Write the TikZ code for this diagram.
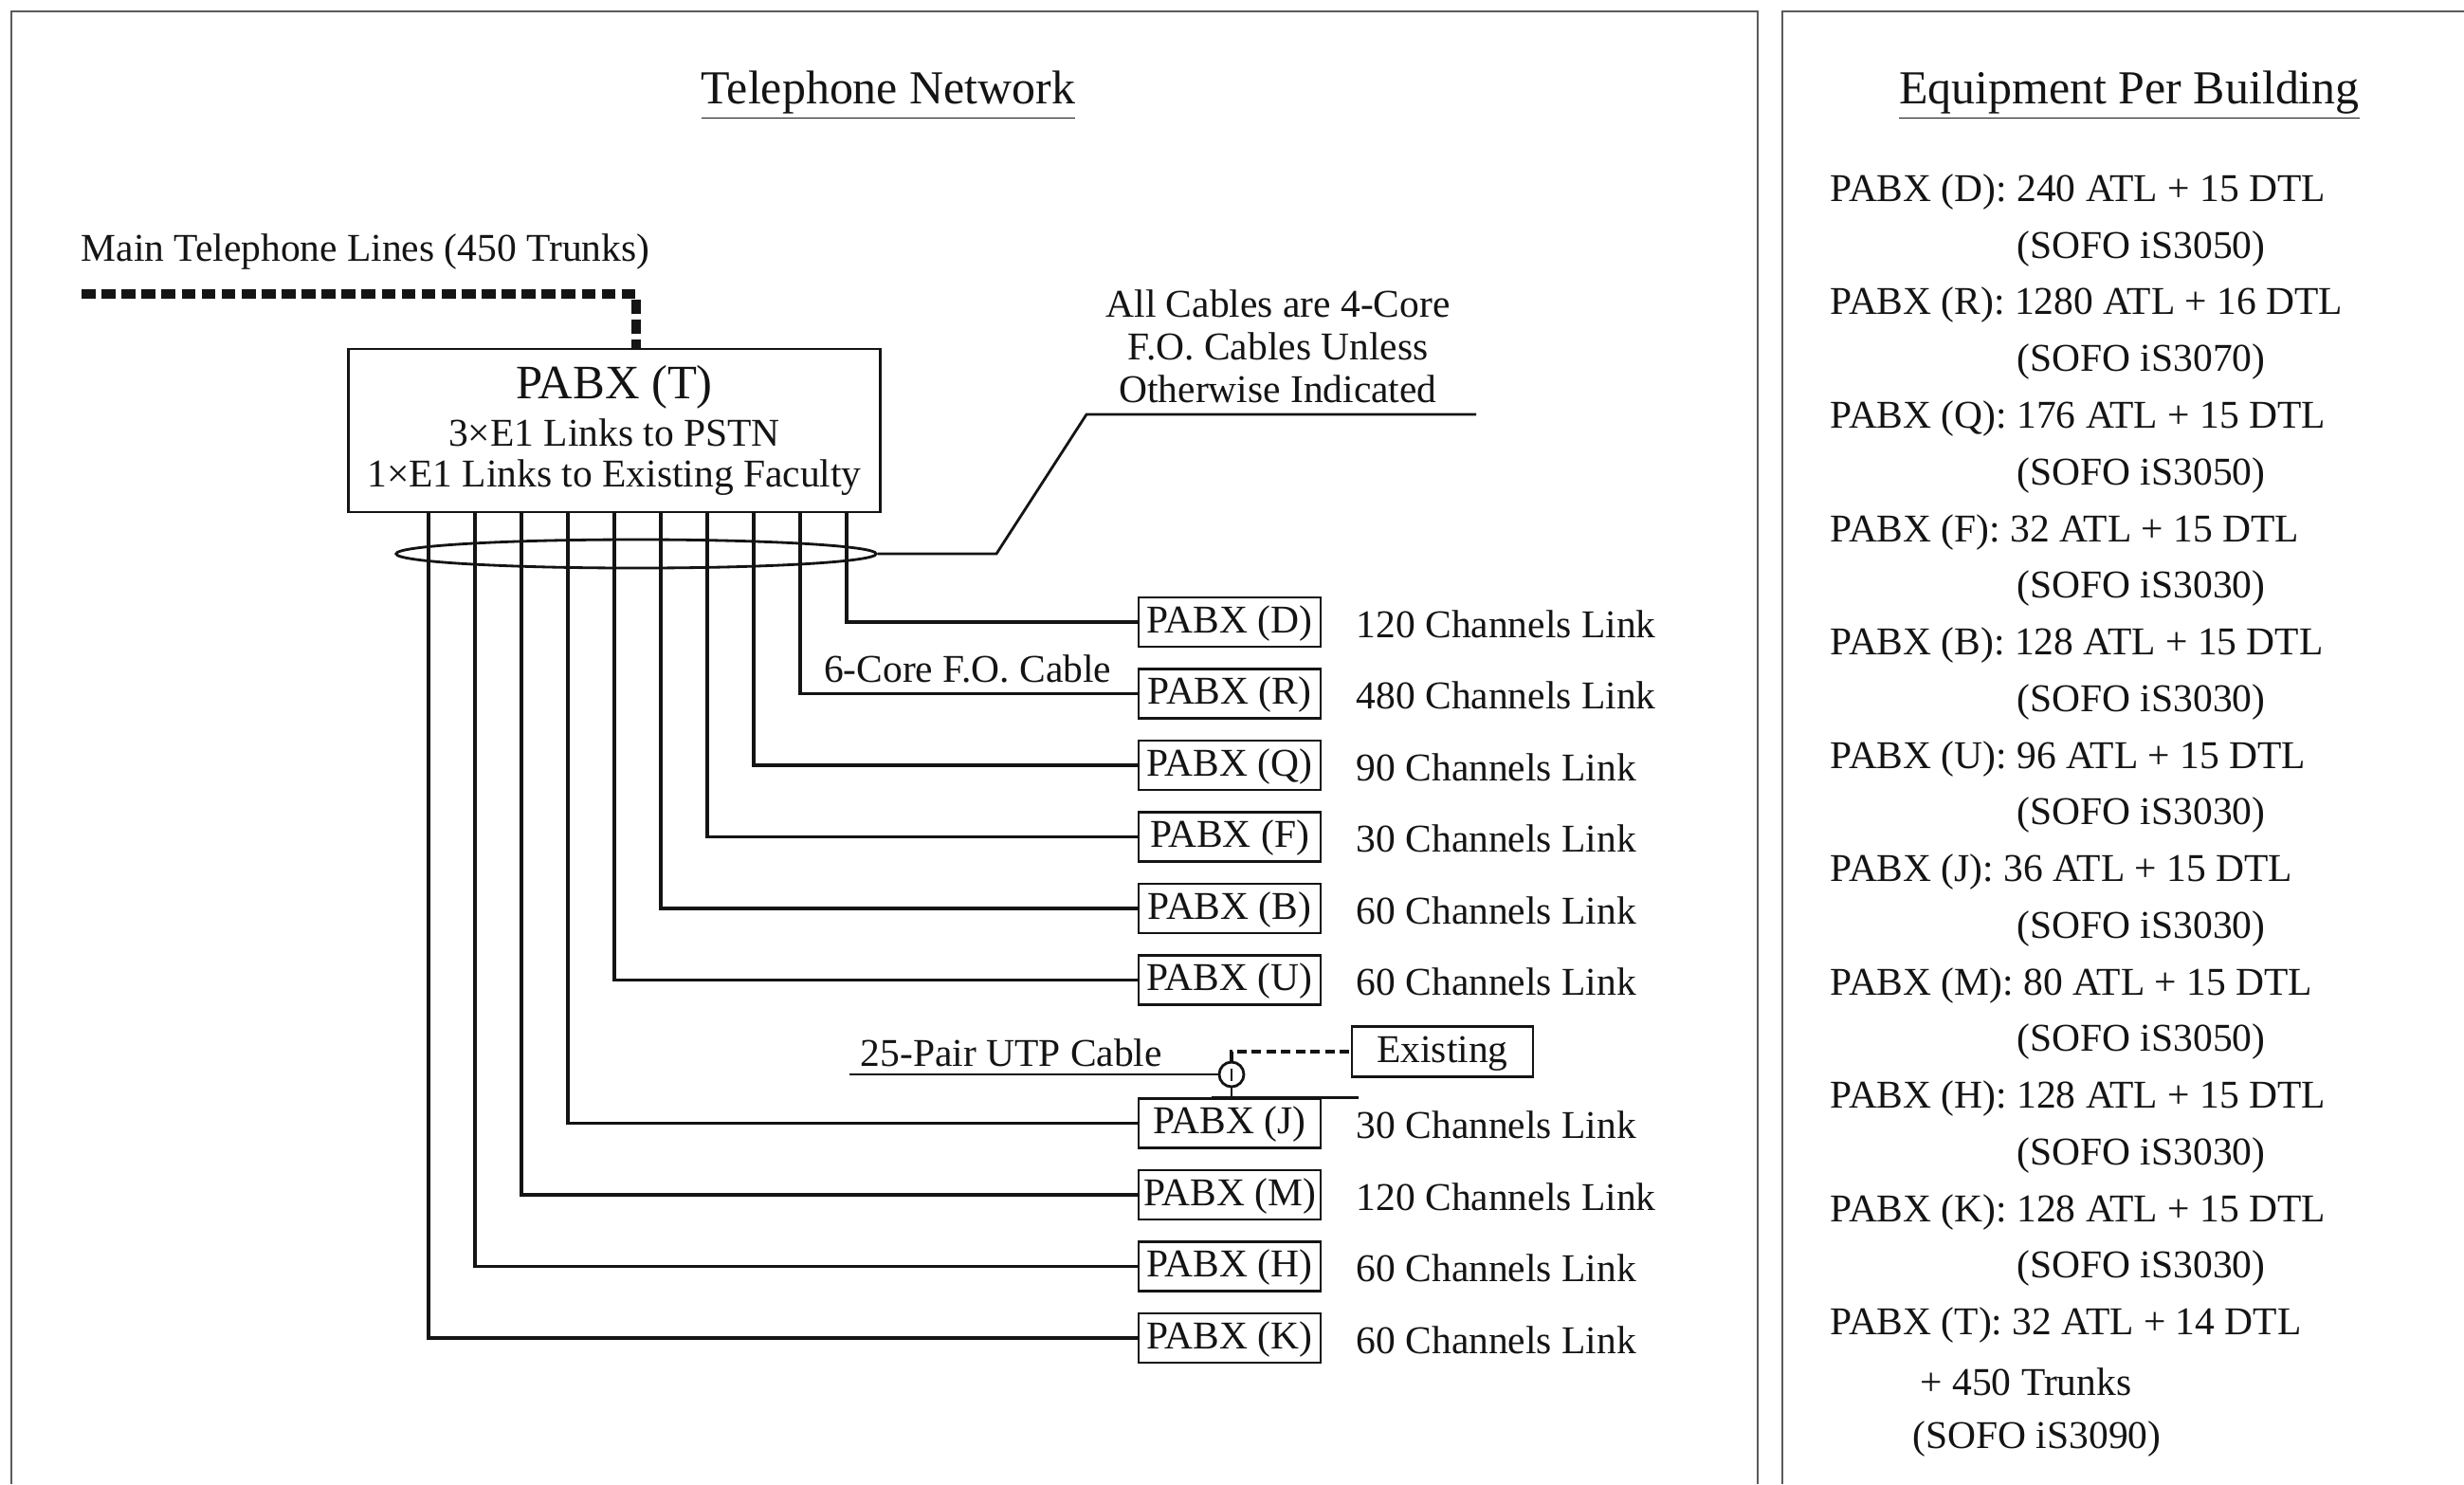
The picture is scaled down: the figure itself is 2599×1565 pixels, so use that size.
\documentclass[tikz,border=0pt]{standalone}
\usepackage{fontspec}
\setmainfont{Liberation Serif}
\usetikzlibrary{shapes.geometric, calc}
\definecolor{tnInk}{HTML}{141414}
\definecolor{tnRule}{HTML}{5A5A5A}
\tikzset{
  tnframe/.style={draw=tnRule, line width=0.7pt},
  tntitle/.style={font=\fontsize{14.2}{16}\selectfont, text=tnInk, inner sep=0pt, anchor=base},
  tntext/.style={font=\fontsize{11.8}{13.6}\selectfont, text=tnInk, inner sep=0pt},
  tnpabx/.style={
    draw=tnInk, line width=0.8pt, minimum width=1.92cm, minimum height=0.52cm,
    inner sep=0pt, text height=0.69em, text depth=0.05em,
    font=\fontsize{11.8}{13.6}\selectfont, text=tnInk,
  },
  tnline/.style={draw=tnInk, line width=0.8pt},
  tncable/.style={draw=tnInk, line width=1pt},
  tntrunk/.style={draw=tnInk, line width=3pt, dash pattern=on 4.2pt off 1.8pt},
  tnutp/.style={draw=tnInk, line width=0.9pt, dash pattern=on 2.8pt off 1.6pt},
}

\begin{document}
\begin{tikzpicture}[x=0.01cm, y=-0.01cm]
\useasboundingbox (0,0) rectangle (2599,1565);
\fill[white] (0,0) rectangle (2599,1565);

% Frames ------------------------------------------------------------------
\draw[tnframe] (12,1565) -- (12,12) -- (1854,12) -- (1854,1565);
\draw[tnframe] (1880,1565) -- (1880,12) -- (2599,12);

\node[tntitle] (netTitle) at (937,109) {\underline{Telephone Network}};
\node[tntitle] (eqTitle) at (2246,109) {\underline{Equipment Per Building}};

% Central exchange --------------------------------------------------------
\node[tnline, minimum width=5.6cm, minimum height=1.72cm] (pabxT) at (648,454) {};
\node[tntext, font=\fontsize{14.4}{16}\selectfont] (pabxTname) at (648,408) {PABX (T)};
\node[tntext] (pabxTpstn) at (648,456) {3×E1 Links to PSTN};
\node[tntext] (pabxTfac) at (648,504) {1×E1 Links to Existing Faculty};

\node[tntext, anchor=west] (trunkLabel) at (85,265) {Main Telephone Lines (450 Trunks)};
\coordinate (trunkStart) at (86,310);
\coordinate (trunkDrop) at (671,0);
\draw[tntrunk] (trunkStart) -| (pabxT.north -| trunkDrop);

% Cable bundle and note ---------------------------------------------------
\node[tnline, ellipse, minimum width=5.06cm, minimum height=0.3cm, inner sep=0pt] (bundle) at (671,584) {};
\node[tntext, align=center, font=\fontsize{11.8}{12.8}\selectfont] (note) at (1348,365)
  {All Cables are 4-Core\\F.O. Cables Unless\\Otherwise Indicated};
\coordinate (noteKnee) at (1051,584);
\coordinate (noteFoot) at (1146,437);
\coordinate (noteEnd) at (1557,437);
\draw[tnline] (bundle.east) -- (noteKnee) -- (noteFoot) -- (noteEnd);

% Branches ----------------------------------------------------------------
\foreach \tag/\xd/\row/\ch in {D/893/0/120, R/844/1/480, Q/795/2/90, F/746/3/30,
    B/697/4/60, U/648/5/60, J/599/7/30, M/550/8/120, H/501/9/60, K/452/10/60}{%
  \node[tnpabx] (pabx\tag) at (1297,{656+75.5*\row}) {PABX (\tag)};
  \node[tntext, anchor=west] (link\tag) at (1430,{658+75.5*\row}) {\ch\ Channels Link};
  \coordinate (drop\tag) at (\xd,0);
  \draw[tncable] (pabxT.south -| drop\tag) |- (pabx\tag.west);
}
\node[tntext, anchor=base east] (sixCore) at (1173,719) {6-Core F.O. Cable};

% UTP tie to the existing exchange ----------------------------------------
\node[tnline, circle, minimum size=0.26cm, inner sep=0pt] (utp) at (1299,1133) {};
\draw[tnInk, line width=0.6pt] ([yshift=0.065cm]utp.center) -- ([yshift=-0.065cm]utp.center);
\node[tnpabx, minimum width=1.91cm, minimum height=0.53cm] (exist) at (1521.5,1109) {Existing};
\node[tntext, anchor=base west] (utpLabel) at (907,1124) {25-Pair UTP Cable};
\coordinate (utpStart) at (896,1133);
\draw[tnline] (utpStart) -- (utp.west);
\draw[tnutp] (utp.north) |- (exist.west);
\draw[tnline] (utp.south) -- (utp.south |- pabxJ.north);
\coordinate (tapL) at (1278,0);
\coordinate (tapR) at (1433,0);
\draw[tnline] (pabxJ.north -| tapL) -- (pabxJ.north -| tapR);

% Equipment list ----------------------------------------------------------
\foreach \tag/\atl/\dtl/\model [count=\k from 0] in {D/240/15/3050, R/1280/16/3070,
    Q/176/15/3050, F/32/15/3030, B/128/15/3030, U/96/15/3030, J/36/15/3030,
    M/80/15/3050, H/128/15/3030, K/128/15/3030}{%
  \node[tntext, anchor=west] (eq\tag) at (1930,{202.5+119.5*\k}) {PABX (\tag): \atl\ ATL + \dtl\ DTL};
  \node[tntext, anchor=west] (eqm\tag) at (2127,{262.25+119.5*\k}) {(SOFO iS\model)};
}
\node[tntext, anchor=west] (eqT) at (1930,1397) {PABX (T): 32 ATL + 14 DTL};
\node[tntext, anchor=west] (eqTtrunk) at (2025,1457) {+ 450 Trunks};
\node[tntext, anchor=west] (eqmT) at (2017,1517) {(SOFO iS3090)};

\end{tikzpicture}
\end{document}
